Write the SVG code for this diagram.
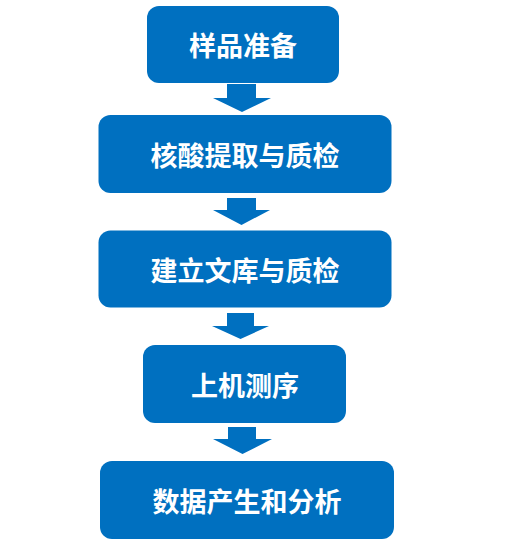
<svg xmlns="http://www.w3.org/2000/svg" width="524" height="543" viewBox="0 0 524 543">
<style>
.box{fill:#0070C0;}
.lbl{fill:#FFFFFF;font-family:"Noto Sans CJK SC","Noto Sans",sans-serif;font-weight:bold;font-size:27px;text-anchor:middle;dominant-baseline:central;}
.arr{fill:#0070C0;}
</style>
<rect width="524" height="543" fill="#FFFFFF"/>
<g id="connectors">
<polygon class="arr" points="227,84 256,84 256,98 271,98 242,112 213,98 227,98"/>
<polygon class="arr" points="227,198 256,198 256,210 270,210 241.5,225 213,210 227,210"/>
<polygon class="arr" points="227,313 254,313 254,326 269,326 240.5,339 212,326 227,326"/>
<polygon class="arr" points="228,427 256,427 256,439 272,439 242.5,454 213,439 228,439"/>
</g>
<g id="node1"><rect class="box" x="147" y="6" width="192" height="77" rx="12"/><text class="lbl" x="243" y="44.5">样品准备</text></g>
<g id="node2"><rect class="box" x="98.5" y="115" width="293" height="78" rx="12"/><text class="lbl" x="245" y="154">核酸提取与质检</text></g>
<g id="node3"><rect class="box" x="98.5" y="230.5" width="293" height="77" rx="12"/><text class="lbl" x="245" y="269">建立文库与质检</text></g>
<g id="node4"><rect class="box" x="143" y="345" width="203" height="78" rx="12"/><text class="lbl" x="245" y="384">上机测序</text></g>
<g id="node5"><rect class="box" x="100" y="461" width="294" height="78" rx="12"/><text class="lbl" x="247" y="500">数据产生和分析</text></g>
</svg>
